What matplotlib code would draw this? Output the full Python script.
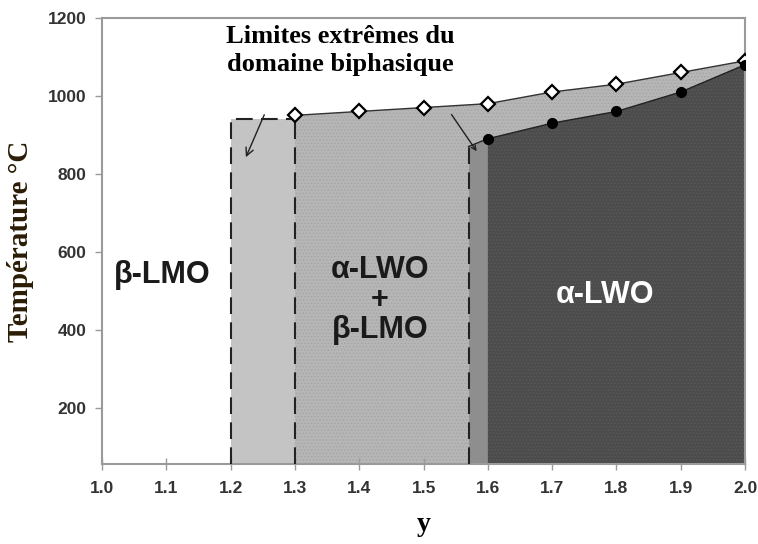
import numpy as np
import matplotlib
matplotlib.use('Agg')
import matplotlib.pyplot as plt

# phase boundary data
y_upper = [1.3, 1.4, 1.5, 1.6, 1.7, 1.8, 1.9, 2.0]
T_upper = [950, 960, 970, 980, 1010, 1030, 1060, 1090]
y_lower = [1.6, 1.7, 1.8, 1.9, 2.0]
T_lower = [890, 930, 960, 1010, 1080]

# extreme limits of the two-phase domain
y_lim_left = [1.2, 1.3]
T_lim_left = [940, 940]
y_lim_right = [1.57, 1.6]
T_lim_right = [870, 890]

x_ticks = [1.0, 1.1, 1.2, 1.3, 1.4, 1.5, 1.6, 1.7, 1.8, 1.9, 2.0]
y_ticks = [200, 400, 600, 800, 1000, 1200]

plt.rcParams['hatch.linewidth'] = 0.6

fig = plt.figure(figsize=(7.58, 5.44), dpi=100)
ax = fig.add_axes([0.1346, 0.147, 0.8484, 0.820])
ymin = 55

# left limit band (light grey)
ax.fill_between(y_lim_left, ymin, T_lim_left, color='#c4c4c4', lw=0, zorder=1)
# two-phase domain (dotted grey) under the upper line
ax.fill_between(y_upper, ymin, T_upper, facecolor='#b6b6b6', edgecolor='#a4a4a4',
                hatch='.....', lw=0, zorder=1)
# right limit strip
ax.fill_between(y_lim_right, ymin, T_lim_right, color='#8e8e8e', lw=0, zorder=2)
# alpha-LWO domain (dark)
ax.fill_between(y_lower, ymin, T_lower, facecolor='#4c4c4c', edgecolor='#5a5a5a',
                hatch='.....', lw=0, zorder=2)

# boundary lines
ax.plot(y_upper, T_upper, color='#333333', lw=1, zorder=3)
ax.plot(y_lower, T_lower, color='#222222', lw=1, zorder=3)
ax.plot([y_lim_right[0], y_lower[0]], [T_lim_right[0], T_lower[0]], color='#222222', lw=1, zorder=3)

# dashed limit lines
dash = dict(color='#222222', lw=1.5, ls=(0, (8, 4)), zorder=4)
ax.plot([y_lim_left[0], y_lim_left[0], y_lim_left[1]], [ymin, T_lim_left[0], T_lim_left[1]], **dash)
ax.plot([y_upper[0], y_upper[0]], [ymin, T_upper[0]], **dash)
ax.plot([y_lim_right[0], y_lim_right[0]], [ymin, T_lim_right[0]], **dash)

# markers
ax.plot(y_upper, T_upper, ls='none', marker='D', ms=7, mfc='white', mec='black', mew=1.6, zorder=5)
ax.plot(y_lower, T_lower, ls='none', marker='o', ms=7, mfc='black', mec='black', zorder=6)

# annotation
ax.text(1.37, 1117, 'Limites extrêmes du\ndomaine biphasique', ha='center', va='center',
        family='Liberation Serif', fontweight='bold', fontsize=19, linespacing=1.3, zorder=7)
ax.annotate('', xy=(1.222, 836), xytext=(1.254, 958),
            arrowprops=dict(arrowstyle='->', color='#222222', lw=1, mutation_scale=14), zorder=7)
ax.annotate('', xy=(1.585, 852), xytext=(1.541, 958),
            arrowprops=dict(arrowstyle='->', color='#222222', lw=1, mutation_scale=8), zorder=7)

# region labels
lab = dict(ha='center', va='center', family='Liberation Sans', fontweight='bold', fontsize=22, zorder=7)
ax.text(1.093, 541, 'β-LMO', color='#1a1a1a', **lab)
ax.text(1.432, 477, 'α-LWO\n+\nβ-LMO', color='#1a1a1a', linespacing=1.0, **lab)
ax.text(1.782, 490, 'α-LWO', color='white', **lab)

ax.set_xlim(1.0, 2.0)
ax.set_ylim(ymin, 1200)
ax.set_xticks(x_ticks)
ax.set_xticklabels([f'{v:.1f}' for v in x_ticks])
ax.set_yticks(y_ticks)

for s in ax.spines.values():
    s.set_color('#9a9a9a')
    s.set_linewidth(1.5)
ax.tick_params(axis='y', direction='out', length=5, width=1, color='#9a9a9a', pad=6)
ax.tick_params(axis='x', direction='inout', length=8, width=1, color='#9a9a9a', pad=8)
for t in ax.get_xticklabels() + ax.get_yticklabels():
    t.set_family('Liberation Sans')
    t.set_fontweight('bold')
    t.set_fontsize(12.5)
    t.set_color('#333333')

ax.set_ylabel('Température °C', family='Liberation Serif', fontweight='bold',
              fontsize=21, color='#2a1c05', labelpad=10)
ax.set_xlabel('y', family='Liberation Serif', fontweight='bold', fontsize=20, labelpad=12)

fig.savefig('out.png', dpi=100)
